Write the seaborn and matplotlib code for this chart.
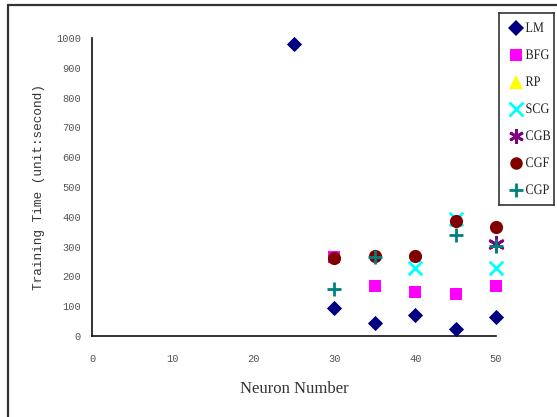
import numpy as np
import pandas as pd
import matplotlib
matplotlib.use("Agg")
import matplotlib.pyplot as plt
from matplotlib.lines import Line2D
from matplotlib.patheffects import AbstractPathEffect
from matplotlib.transforms import Affine2D
import seaborn as sns

nan = np.nan
neurons = [25, 30, 35, 40, 45, 50]
methods = ["LM", "BFG", "RP", "SCG", "CGB", "CGF", "CGP"]
lm = [980, 95, 43, 70, 22, 63]
bfg = [nan, 266, 167, 147, 140, 167]
rp = [nan, nan, nan, nan, nan, nan]
scg = [nan, nan, nan, 227, 392, 229]
cgb = [nan, nan, nan, nan, nan, 308]
cgf = [nan, 261, 269, 269, 387, 367]
cgp = [nan, 157, 264, nan, 339, 303]
x_ticks = [0, 10, 20, 30, 40, 50]
y_ticks = [0, 100, 200, 300, 400, 500, 600, 700, 800, 900, 1000]

colors = ["#000080", "#FF00FF", "#FFFF00", "#00FFFF", "#800080", "#800000", "#008080"]
markers = ["D", "s", "^", "x", (6, 2, 0), "o", "+"]
sizes = [60, 75, 95, 95, 110, 90, 115]
widths = [0, 0, 0, 2.0, 2.0, 0, 2.0]

series = [lm, bfg, rp, scg, cgb, cgf, cgp]
df = pd.concat(
    [pd.DataFrame({"neurons": neurons, "time": vals, "method": m})
     for m, vals in zip(methods, series)],
    ignore_index=True,
)


class Squeeze(AbstractPathEffect):
    """Narrow a text horizontally about its starting point."""

    def __init__(self, sx):
        super().__init__()
        self.sx = sx

    def draw_path(self, renderer, gc, tpath, affine, rgbFace=None):
        x0 = affine.transform([[0.0, 0.0]])[0][0]
        squeezed = affine + Affine2D().translate(-x0, 0).scale(self.sx, 1).translate(x0, 0)
        renderer.draw_path(gc, tpath, squeezed, rgbFace)


sns.set_style("white")
fig = plt.figure(figsize=(5.57, 4.17), dpi=100)
ax = fig.add_axes([92 / 557, 1 - 336 / 417, (496 - 92) / 557, (336 - 38) / 417])

for m, c, mk, s, lw in zip(methods, colors, markers, sizes, widths):
    sub = df[df["method"] == m].dropna()
    if sub.empty:
        continue
    kw = dict(linewidth=lw, edgecolor=c) if lw else dict(linewidth=0)
    sns.scatterplot(data=sub, x="neurons", y="time", ax=ax, color=c,
                    marker=mk, s=s, legend=False, zorder=3, clip_on=False, **kw)

ax.set_xlim(0, 50)
ax.set_ylim(0, 1000)
ax.set_xticks(x_ticks)
ax.set_yticks(y_ticks)
ax.set_xticklabels([str(v) for v in x_ticks])
ax.set_yticklabels([str(v) for v in y_ticks])
for side in ["top", "right"]:
    ax.spines[side].set_visible(False)
for side in ["left", "bottom"]:
    ax.spines[side].set_color("#111111")
    ax.spines[side].set_linewidth(1.2)
ax.tick_params(direction="in", length=4, width=1, color="#111111",
               labelsize=7.5, labelcolor="#555555")
ax.tick_params(axis="x", pad=13)
ax.tick_params(axis="y", pad=8)
for lab in ax.get_xticklabels() + ax.get_yticklabels():
    lab.set_family("Liberation Mono")

ax.set_xlabel("Neuron Number", family="Liberation Serif", fontsize=12,
              color="#333333", labelpad=12)
ax.set_ylabel("Training Time (unit:second)", family="Liberation Mono",
              fontsize=9.2, color="#333333", labelpad=8)

# legend box: a small framed axes holding one row per method
lax = fig.add_axes([499 / 557, 1 - 205 / 417, 55 / 557, 192 / 417])
lax.set_xlim(0, 55)
lax.set_ylim(192, 0)
lax.set_xticks([])
lax.set_yticks([])
lax.set_facecolor("white")
for sp in lax.spines.values():
    sp.set_color("#333333")
    sp.set_linewidth(1.2)
leg_sizes = [7.8, 8.6, 10, 9.8, 10.5, 9, 10.5]
row0, step = 15.0, 27.0
for i, (m, c, mk, ms, lw) in enumerate(zip(methods, colors, markers, leg_sizes, widths)):
    yy = row0 + i * step
    lax.plot([17], [yy], linestyle="none", marker=mk, markersize=ms, color=c,
             markerfacecolor=c, markeredgecolor=c, markeredgewidth=lw)
    lax.text(26.5, yy + 0.5, m, ha="left", va="center", family="Liberation Serif",
             fontsize=10.5, color="#222222", path_effects=[Squeeze(0.84)])

# outer frame lines along the left and top of the figure
fig.add_artist(Line2D([8 / 557, 8 / 557], [0, 1 - 5 / 417],
                      transform=fig.transFigure, color="#333333", linewidth=1.6))
fig.add_artist(Line2D([8 / 557, 1], [1 - 5 / 417, 1 - 5 / 417],
                      transform=fig.transFigure, color="#333333", linewidth=1.6))

fig.savefig("out.png", dpi=100)
